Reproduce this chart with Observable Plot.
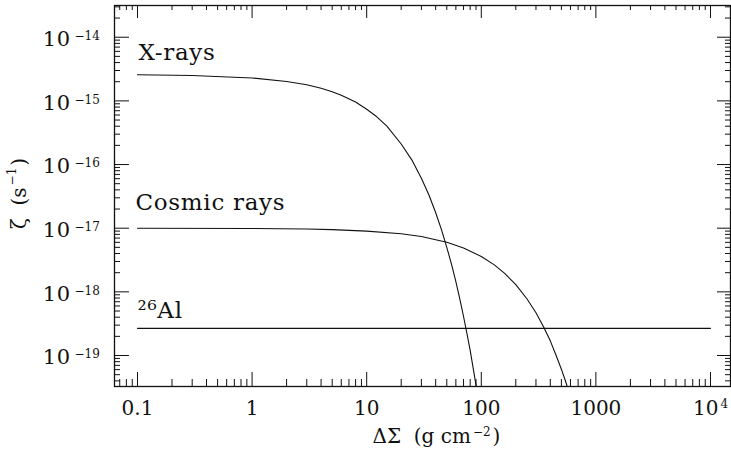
<!DOCTYPE html>
<html>
<head>
<meta charset="utf-8">
<script src="https://cdn.jsdelivr.net/npm/d3@7"></script>
<script src="https://cdn.jsdelivr.net/npm/@observablehq/plot@0.6"></script>
<style>
  html, body { margin: 0; padding: 0; background: #fff; }
  #chart svg g[font-size="23"] text { letter-spacing: 0.7px; }
  #chart svg g[font-size="21"] text { letter-spacing: 0.5px; }
</style>
</head>
<body>
<div id="chart"></div>
<script>
// ---- data ----
const xraySigma = [0.1, 0.3, 1, 2, 3, 4, 5, 6, 8, 10, 12, 15, 20, 25, 30, 35, 40, 45, 50, 55, 60, 65, 70, 75, 80, 85, 90, 95];
const xrayZeta  = [2.57e-15, 2.50e-15, 2.29e-15, 2.02e-15, 1.79e-15, 1.58e-15, 1.39e-15, 1.23e-15, 9.6e-16, 7.4e-16, 5.8e-16, 4.0e-16, 2.1e-16, 1.15e-16, 6.1e-17, 3.3e-17, 1.75e-17, 9.4e-18, 5.0e-18, 2.7e-18, 1.45e-18, 7.7e-19, 4.1e-19, 2.2e-19, 1.2e-19, 6.3e-20, 3.4e-20, 1.8e-20];

const crSigma = [0.1, 1, 3, 5, 10, 20, 30, 40, 50, 70, 100, 130, 160, 200, 250, 300, 350, 400, 450, 500, 550, 600];
const crZeta  = [1.0e-17, 9.9e-18, 9.7e-18, 9.5e-18, 9.0e-18, 8.2e-18, 7.4e-18, 6.6e-18, 6.0e-18, 4.9e-18, 3.6e-18, 2.65e-18, 1.95e-18, 1.3e-18, 7.8e-19, 4.7e-19, 2.8e-19, 1.7e-19, 1.0e-19, 6.1e-20, 3.7e-20, 2.2e-20];

const alSigma = [0.1, 10000];
const alZeta  = [2.67e-19, 2.67e-19];

const curveLabels = ["X-rays", "Cosmic rays", "\u00B2\u2076Al"];

const xTickValues = [0.1, 1, 10, 100, 1000, 10000];
const xTickBase   = ["0.1", "1", "10", "100", "1000", "10"];
const xTickExp    = ["", "", "", "", "", "4"];
const yTickValues = [1e-14, 1e-15, 1e-16, 1e-17, 1e-18, 1e-19];
const yTickBase   = ["10", "10", "10", "10", "10", "10"];
const yTickExp    = ["\u221214", "\u221215", "\u221216", "\u221217", "\u221218", "\u221219"];

const xTitle = ["\u0394\u03A3  (g cm", "\u22122", ")"];
const yTitle = ["\u03B6  (s", "\u22121", ")"];

// ---- layout ----
const W = 731, H = 463;
const mL = 114, mR = 1, mT = 5, mB = 77;
const innerW = W - mL - mR, innerH = H - mT - mB;
const xDomain = [0.063, 14950];
const yDomain = [3.26e-20, 3.15e-14];

const xray = xraySigma.map((s, i) => ({s, z: xrayZeta[i]}));
const cr = crSigma.map((s, i) => ({s, z: crZeta[i]}));
const al = alSigma.map((s, i) => ({s, z: alZeta[i]}));
const xTicks = xTickValues.map((v, i) => ({v, base: xTickBase[i], exp: xTickExp[i]}));
const xTicksPlain = xTicks.filter(d => !d.exp);
const xTicksPow = xTicks.filter(d => d.exp);
const yTicks = yTickValues.map((v, i) => ({v, base: yTickBase[i], exp: yTickExp[i]}));

const isPow10 = v => Math.abs(Math.log10(v) - Math.round(Math.log10(v))) < 1e-9;
const xMinor = d3.scaleLog().domain(xDomain).ticks().filter(v => !isPow10(v));
const yMinor = d3.scaleLog().domain(yDomain).ticks().filter(v => !isPow10(v));

const majX = 14, minX = 7, majY = 15, minY = 6;
const font = "DejaVu Serif";
const ink = "#111";
const bigSize = 20, supSize = 12;

// text widths for placing superscript pieces of the titles
const ctx = document.createElement("canvas").getContext("2d");
const textWidth = (s, size) => { ctx.font = `${size}px "${font}"`; return ctx.measureText(s).width; };
const xw0 = textWidth(xTitle[0], bigSize), xw1 = textWidth(xTitle[1], supSize);
const yw0 = textWidth(yTitle[0], bigSize), yw1 = textWidth(yTitle[1], supSize);

const xTitleDx = -50, xTitleDy = 56;   // relative to frame bottom-centre
const yTitleDx = -95, yTitleDy = 33;   // relative to frame left-middle

const plot = Plot.plot({
  width: W, height: H,
  marginLeft: mL, marginRight: mR, marginTop: mT, marginBottom: mB,
  style: {fontFamily: font, fontSize: "20px", background: "#fff", color: ink},
  x: {type: "log", domain: xDomain, axis: null},
  y: {type: "log", domain: yDomain, axis: null},
  marks: [
    // curves
    Plot.line(xray, {x: "s", y: "z", stroke: ink, strokeWidth: 1.1, clip: true}),
    Plot.line(cr, {x: "s", y: "z", stroke: ink, strokeWidth: 1.1, clip: true}),
    Plot.line(al, {x: "s", y: "z", stroke: ink, strokeWidth: 1.1, clip: true}),
    // curve labels
    Plot.text([curveLabels[0]], {x: [xraySigma[0]], y: [xrayZeta[0]], text: d => d, textAnchor: "start", dx: 1, dy: -22, fontSize: 23, fill: ink}),
    Plot.text([curveLabels[1]], {x: [crSigma[0]], y: [crZeta[0]], text: d => d, textAnchor: "start", dx: -2, dy: -26, fontSize: 23, fill: ink}),
    Plot.text([curveLabels[2]], {x: [alSigma[0]], y: [alZeta[0]], text: d => d, textAnchor: "start", dx: 0, dy: -18, fontSize: 23, fill: ink}),
    // inward ticks: bottom & top
    Plot.tickX(xTickValues, {x: d => d, insetTop: innerH - majX, stroke: ink, strokeWidth: 1}),
    Plot.tickX(xMinor, {x: d => d, insetTop: innerH - minX, stroke: ink, strokeWidth: 1}),
    Plot.tickX(xTickValues, {x: d => d, insetBottom: innerH - (majX - 1), stroke: ink, strokeWidth: 1}),
    Plot.tickX(xMinor, {x: d => d, insetBottom: innerH - (minX - 2), stroke: ink, strokeWidth: 1}),
    // inward ticks: left & right
    Plot.tickY(yTickValues, {y: d => d, insetRight: innerW - majY, stroke: ink, strokeWidth: 1}),
    Plot.tickY(yMinor, {y: d => d, insetRight: innerW - minY, stroke: ink, strokeWidth: 1}),
    Plot.tickY(yTickValues, {y: d => d, insetLeft: innerW - (majY - 2), stroke: ink, strokeWidth: 1}),
    Plot.tickY(yMinor, {y: d => d, insetLeft: innerW - (minY - 1), stroke: ink, strokeWidth: 1}),
    // x tick labels
    Plot.text(xTicksPlain, {x: "v", text: "base", frameAnchor: "bottom", lineAnchor: "top", dy: 14, fontSize: bigSize, fill: ink}),
    Plot.text(xTicksPow, {x: "v", text: "base", frameAnchor: "bottom", lineAnchor: "top", textAnchor: "end", dx: 8, dy: 14, fontSize: bigSize, fill: ink}),
    Plot.text(xTicksPow, {x: "v", text: "exp", frameAnchor: "bottom", lineAnchor: "top", textAnchor: "start", dx: 10, dy: 13, fontSize: supSize, fill: ink}),
    // y tick labels
    Plot.text(yTicks, {y: "v", text: "base", frameAnchor: "left", textAnchor: "end", dx: -44, dy: 2, fontSize: 21, fill: ink}),
    Plot.text(yTicks, {y: "v", text: "exp", frameAnchor: "left", textAnchor: "start", dx: -40, dy: -1, fontSize: supSize, fill: ink}),
    // x title
    Plot.text([xTitle[0]], {frameAnchor: "bottom", text: d => d, textAnchor: "start", dx: xTitleDx, dy: xTitleDy, fontSize: bigSize, fill: ink}),
    Plot.text([xTitle[1]], {frameAnchor: "bottom", text: d => d, textAnchor: "start", dx: xTitleDx + xw0 + 2, dy: xTitleDy - 7, fontSize: supSize, fill: ink}),
    Plot.text([xTitle[2]], {frameAnchor: "bottom", text: d => d, textAnchor: "start", dx: xTitleDx + xw0 + xw1 + 4, dy: xTitleDy, fontSize: bigSize, fill: ink}),
    // y title (rotated)
    Plot.text([yTitle[0]], {frameAnchor: "left", text: d => d, rotate: -90, textAnchor: "start", dx: yTitleDx, dy: yTitleDy, fontSize: bigSize, fill: ink}),
    Plot.text([yTitle[1]], {frameAnchor: "left", text: d => d, rotate: -90, textAnchor: "start", dx: yTitleDx - 7, dy: yTitleDy - yw0 - 2, fontSize: supSize, fill: ink}),
    Plot.text([yTitle[2]], {frameAnchor: "left", text: d => d, rotate: -90, textAnchor: "start", dx: yTitleDx, dy: yTitleDy - yw0 - yw1 - 4, fontSize: bigSize, fill: ink}),
    Plot.frame({stroke: ink, strokeWidth: 1.3})
  ]
});
document.getElementById("chart").appendChild(plot);
</script>
</body>
</html>
